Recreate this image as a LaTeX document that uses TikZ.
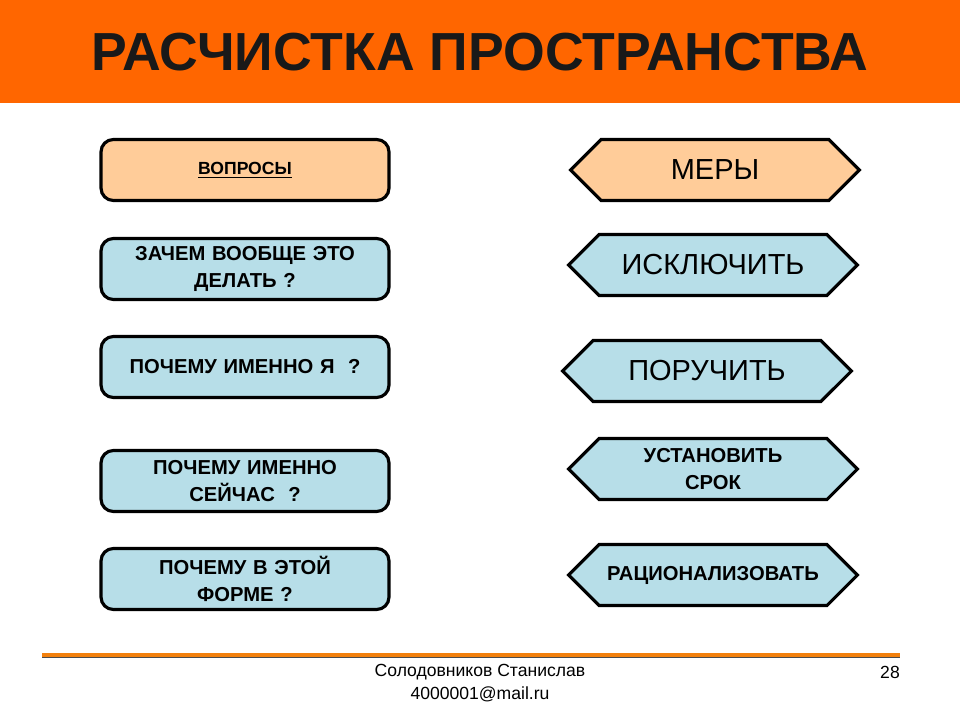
\documentclass[tikz,border=0pt]{standalone}
\usepackage{fontspec}
\setmainfont{Liberation Sans}
\usetikzlibrary{shapes.symbols}
\definecolor{headorange}{HTML}{FF6600}
\definecolor{softorange}{HTML}{FFCC99}
\definecolor{softblue}{HTML}{B7DEE8}
\tikzset{
  askbox/.style={draw, line width=1.8pt, rounded corners=7pt, fill=softblue,
    minimum width=5.76cm, minimum height=1.22cm, align=center,
    font=\bfseries\fontsize{11.5}{15}\selectfont, text width=5.2cm},
  stepbox/.style={draw, line width=1.8pt, signal, signal to=east and west,
    signal pointer angle=90, fill=softblue,
    minimum width=5.78cm, minimum height=1.22cm, align=center, inner sep=0pt},
  bigtext/.style={font=\fontsize{16.5}{19}\selectfont},
  smalltext/.style={font=\bfseries\fontsize{11.5}{15}\selectfont}
}
\begin{document}
\begin{tikzpicture}[x=0.02cm, y=-0.02cm]
    \useasboundingbox (0,0) rectangle (960,720);
    % header band
    \fill[headorange] (0,0) rectangle (960,103);
    \node[font=\bfseries\fontsize{30.5}{34}\selectfont, text=black!90] (title) at (480,52) {РАСЧИСТКА ПРОСТРАНСТВА};

    % left column -> questions
    \node[askbox, fill=softorange, font=\bfseries\fontsize{10}{13}\selectfont] (q0) at (245,170) {\underline{ВОПРОСЫ}};
    \node[askbox] (q1) at (245,269) {ЗАЧЕМ ВООБЩЕ ЭТО\\ДЕЛАТЬ ?};
    \node[askbox] (q2) at (245,367) {ПОЧЕМУ ИМЕННО Я \ ?};
    \node[askbox] (q3) at (245,481) {ПОЧЕМУ ИМЕННО\\СЕЙЧАС \ ?};
    \node[askbox] (q4) at (245,579) {ПОЧЕМУ В ЭТОЙ\\ФОРМЕ ?};

    % right column -> measures
    \node[stepbox, fill=softorange, bigtext] (m0) at (715,170) {МЕРЫ};
    \node[stepbox, bigtext] (m1) at (713,265) {ИСКЛЮЧИТЬ};
    \node[stepbox, bigtext] (m2) at (707,371) {ПОРУЧИТЬ};
    \node[stepbox, smalltext] (m3) at (713,469) {УСТАНОВИТЬ\\СРОК};
    \node[stepbox, smalltext] (m4) at (713,575) {РАЦИОНАЛИЗОВАТЬ};

    % footer
    \draw[line width=2.2pt, orange!80!brown] (42,655) -- (900,655);
    \draw[line width=0.4pt, black!70] (42,657) -- (900,657);
    \node[align=center, font=\fontsize{10}{13}\selectfont] (author) at (480,683)
        {Солодовников Станислав\\4000001@mail.ru};
    \node[font=\fontsize{10}{13}\selectfont] (page) at (890,672) {28};
\end{tikzpicture}
\end{document}
